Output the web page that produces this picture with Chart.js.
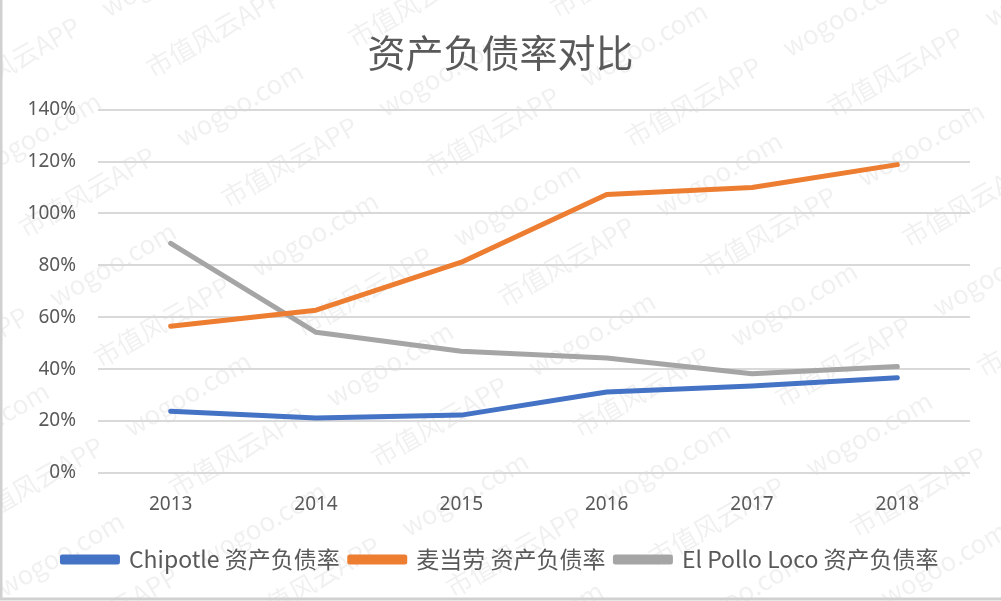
<!DOCTYPE html>
<html>
<head>
<meta charset="utf-8">
<script src="https://cdn.jsdelivr.net/npm/chart.js@4.4.1/dist/chart.umd.min.js"></script>
<style>
  html, body { margin: 0; padding: 0; background: #fff; }
  #wrap { width: 1001px; height: 601px; position: relative; }
</style>
</head>
<body>
<div id="wrap"><canvas id="debtChart" width="1001" height="601"></canvas></div>
<script>
// data
const years = ['2013', '2014', '2015', '2016', '2017', '2018'];
const chipotle = [23.8, 21.2, 22.3, 31.2, 33.5, 36.7];
const mcdonalds = [56.5, 62.7, 81.2, 107.3, 110.0, 118.8];
const elPolloLoco = [88.5, 54.2, 46.9, 44.3, 38.2, 41.0];
const seriesNames = ['Chipotle 资产负债率', '麦当劳 资产负债率', 'El Pollo Loco 资产负债率'];
const yTicks = [0, 20, 40, 60, 80, 100, 120, 140];

const textGray = '#595959';
const cjk = '"Noto Sans CJK SC", "Noto Sans", sans-serif';

// faint diagonal watermark like the original screenshot
const watermark = {
  id: 'watermark',
  beforeDraw(chart) {
    const ctx = chart.ctx;
    ctx.save();
    ctx.fillStyle = 'rgba(0,0,0,0.06)';
    ctx.font = '26px ' + cjk;
    ctx.translate(500, 300);
    ctx.rotate(-Math.PI / 6);
    for (let row = -7; row <= 7; row++) {
      for (let col = -4; col <= 4; col++) {
        ctx.fillText('市值风云APP     wogoo.com', col * 380 + (row % 2) * 190, row * 75);
      }
    }
    ctx.restore();
  },
  afterDraw(chart) {
    const ctx = chart.ctx;
    ctx.save();
    ctx.strokeStyle = '#d0d0d0';
    ctx.lineWidth = 3;
    ctx.beginPath();
    ctx.moveTo(1, 0);
    ctx.lineTo(1, 599);
    ctx.lineTo(1001, 599);
    ctx.stroke();
    ctx.restore();
  }
};

function lineSet(label, data, color) {
  return {
    label: label,
    data: data,
    borderColor: color,
    backgroundColor: color,
    borderWidth: 5,
    pointRadius: 0,
    tension: 0,
    borderCapStyle: 'round',
    borderJoinStyle: 'round'
  };
}

const ctx = document.getElementById('debtChart').getContext('2d');
new Chart(ctx, {
  type: 'line',
  data: {
    labels: years,
    datasets: [
      lineSet(seriesNames[0], chipotle, '#4472C4'),
      lineSet(seriesNames[1], mcdonalds, '#ED7D31'),
      lineSet(seriesNames[2], elPolloLoco, '#A5A5A5')
    ]
  },
  options: {
    responsive: false,
    animation: false,
    layout: { padding: { left: 0, right: 0, top: 0, bottom: 20 } },
    plugins: {
      title: {
        display: true,
        text: '资产负债率对比',
        color: textGray,
        font: { family: cjk, size: 38, weight: 'normal' },
        padding: { top: 30, bottom: 34 }
      },
      legend: {
        position: 'bottom',
        labels: {
          color: textGray,
          font: { family: cjk, size: 23 },
          boxWidth: 55,
          boxHeight: 5,
          padding: 10
        }
      },
      tooltip: { enabled: false }
    },
    scales: {
      x: {
        offset: true,
        grid: { display: false, drawTicks: false },
        border: { display: false },
        ticks: {
          color: textGray,
          font: { family: '"Noto Sans", sans-serif', size: 19 },
          padding: 20
        },
        afterFit(scale) { scale.height = 65; }
      },
      y: {
        min: 0,
        max: 140,
        afterBuildTicks(scale) { scale.ticks = yTicks.map(v => ({ value: v })); },
        grid: { color: '#d9d9d9', lineWidth: 2, drawTicks: false },
        border: { display: false },
        ticks: {
          color: textGray,
          font: { family: '"Noto Sans", sans-serif', size: 19 },
          padding: 22,
          callback: v => v + '%'
        },
        afterFit(scale) { scale.width = 98; }
      },
      // empty right-hand axis, only keeps the plot's right margin
      yRight: {
        position: 'right',
        min: 0,
        max: 140,
        grid: { display: false, drawTicks: false },
        border: { display: false },
        ticks: { display: false },
        afterFit(scale) { scale.width = 31; }
      }
    }
  },
  plugins: [watermark]
});
</script>
</body>
</html>
